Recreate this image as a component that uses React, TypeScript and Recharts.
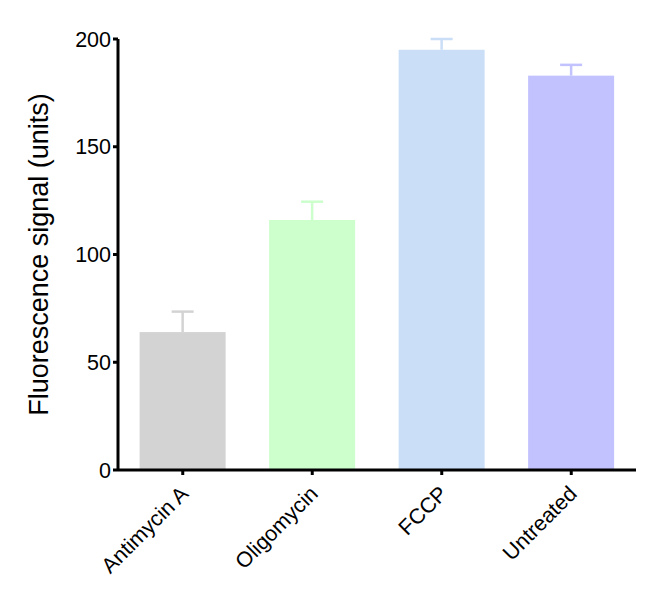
import React from "react";
import { BarChart, Bar, XAxis, YAxis, Cell } from "recharts";

const categories = ["Antimycin A", "Oligomycin", "FCCP", "Untreated"];
const means = [64, 116, 195, 183];
const errors = [9.5, 8.5, 5, 5];
const colors = ["#d3d3d3", "#ccffcc", "#cadef7", "#c2c2ff"];
const yTicks = [0, 50, 100, 150, 200];

const data = categories.map((name, i) => ({ name, value: means[i], err: errors[i], color: colors[i] }));

const FONT = "'Liberation Sans', Arial, Helvetica, sans-serif";

const BarWithError = (props: any) => {
  const { x, y, width, height, payload } = props;
  const pxPerUnit = height / payload.value;
  const top = y - payload.err * pxPerUnit;
  const cx = x + width / 2;
  const capHalf = 11;
  return (
    <g>
      <rect x={x} y={y} width={width} height={height} fill={payload.color} />
      <line x1={cx} x2={cx} y1={y} y2={top} stroke={payload.color} strokeWidth={2.5} />
      <line x1={cx - capHalf} x2={cx + capHalf} y1={top} y2={top} stroke={payload.color} strokeWidth={2.5} />
    </g>
  );
};

const XTick = (props: any) => {
  const { x, y, payload } = props;
  const ax = x + 7;
  const ay = y + 18;
  return (
    <text
      x={ax}
      y={ay}
      textAnchor="end"
      fontSize={21.5}
      fontFamily={FONT}
      fill="#000"
      transform={`rotate(-45, ${ax}, ${ay})`}
    >
      {payload.value}
    </text>
  );
};

export default function App() {
  return (
    <div style={{ width: 643, height: 588, background: "#fff" }}>
      <BarChart
        width={643}
        height={588}
        data={data}
        margin={{ top: 31, right: 15, left: 10, bottom: 0 }}
        barCategoryGap="16.7%"
      >
        <XAxis
          dataKey="name"
          height={126}
          interval={0}
          axisLine={{ stroke: "#000", strokeWidth: 3 }}
          tickLine={{ stroke: "#000", strokeWidth: 3 }}
          tickSize={5}
          tick={<XTick />}
        />
        <YAxis
          width={100}
          domain={[0, 200]}
          ticks={yTicks}
          interval={0}
          axisLine={{ stroke: "#000", strokeWidth: 3 }}
          tickLine={{ stroke: "#000", strokeWidth: 3 }}
          tickSize={5}
          tick={{ fontSize: 21.5, fontFamily: FONT, fill: "#000" }}
          label={{
            value: "Fluorescence signal (units)",
            angle: -90,
            position: "center",
            dx: -30,
            style: { fontSize: 27, fontFamily: FONT, fill: "#000", textAnchor: "middle" },
          }}
        />
        <Bar dataKey="value" isAnimationActive={false} shape={<BarWithError />}>
          {data.map((d, i) => (
            <Cell key={i} fill={d.color} />
          ))}
        </Bar>
      </BarChart>
    </div>
  );
}
